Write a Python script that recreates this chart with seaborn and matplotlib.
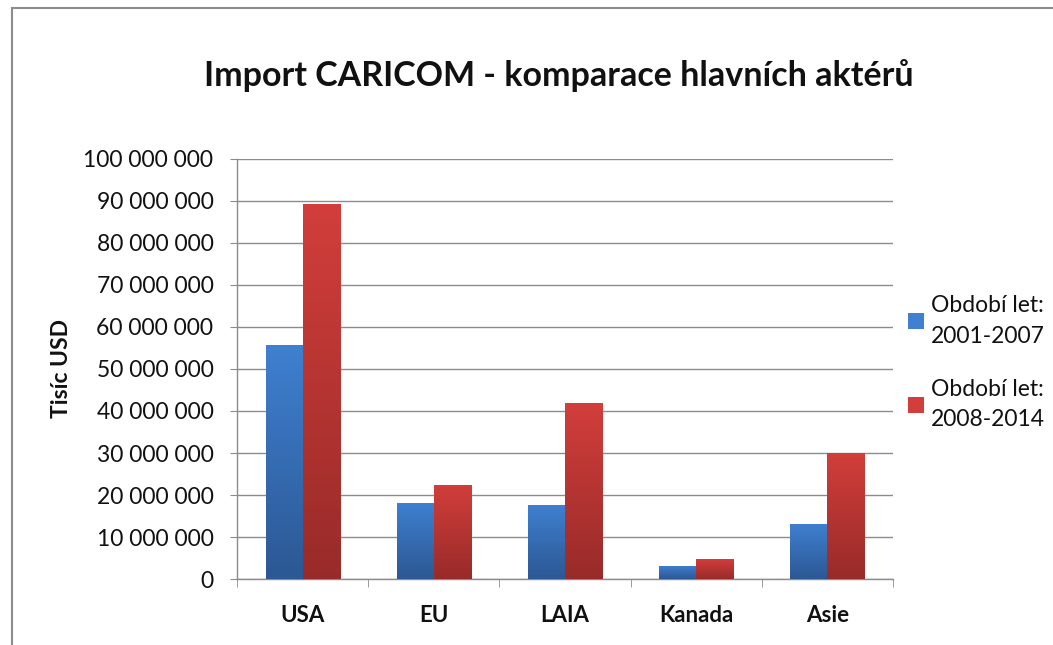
import numpy as np
import pandas as pd
import matplotlib
matplotlib.use("Agg")
import matplotlib.pyplot as plt
import seaborn as sns
from matplotlib.ticker import FuncFormatter, FixedLocator
from matplotlib.colors import LinearSegmentedColormap
from matplotlib.patches import Rectangle, Patch

categories = ["USA", "EU", "LAIA", "Kanada", "Asie"]
series_names = ["Období let:\n2001-2007", "Období let:\n2008-2014"]
values_2001_2007 = [55.7e6, 18.2e6, 17.7e6, 3.2e6, 13.2e6]
values_2008_2014 = [89.4e6, 22.5e6, 41.8e6, 4.7e6, 30.0e6]

df = pd.DataFrame({
    "cat": categories * 2,
    "series": [series_names[0]] * 5 + [series_names[1]] * 5,
    "val": values_2001_2007 + values_2008_2014,
})

sns.set_style("white")
plt.rcParams['font.family'] = ['Lato', 'DejaVu Sans']

fig = plt.figure(figsize=(10.53, 6.45), dpi=100)
ax = fig.add_axes([237/1053, 1 - 579/645, (893-237)/1053, (579-159)/645])

top_cols = ["#3f80d0", "#d23e3b"]
bot_cols = ["#2c5894", "#982b29"]
sns.barplot(data=df, x="cat", y="val", hue="series", order=categories,
            hue_order=series_names, palette=top_cols, width=0.565,
            saturation=1, ax=ax, legend=False, zorder=3)

# gradient fill on each bar
for i, cont in enumerate(ax.containers):
    cmap = LinearSegmentedColormap.from_list("g", [bot_cols[i], top_cols[i]])
    for bar in cont:
        x0, y0 = bar.get_x(), bar.get_y()
        w, h = bar.get_width(), bar.get_height()
        grad = np.linspace(0, 1, 256).reshape(-1, 1)
        im = ax.imshow(grad, extent=[x0, x0 + w, y0, y0 + h], origin="lower",
                       cmap=cmap, aspect="auto", zorder=3.5)
        im.set_clip_path(bar)
        bar.set_edgecolor("none")

ax.set_xlim(-0.5, 4.5)
ax.set_ylim(0, 100e6)
ax.set_yticks(np.arange(0, 100e6 + 1, 10e6))
ax.yaxis.set_major_formatter(FuncFormatter(lambda v, p: f"{int(v):,}".replace(",", " ")))
ax.grid(axis="y", color="#8c8c8c", linewidth=1.0, zorder=0)
ax.set_axisbelow(True)

for s in ["top", "right"]:
    ax.spines[s].set_visible(False)
for s in ["left", "bottom"]:
    ax.spines[s].set_color("#8c8c8c")
    ax.spines[s].set_linewidth(1.0)

ax.tick_params(axis="y", which="major", length=5, color="#8c8c8c", labelsize=16.5,
               pad=12, left=True, labelcolor="#111111")
ax.tick_params(axis="x", which="major", length=0, labelsize=16, pad=19, labelcolor="#111111")
ax.xaxis.set_minor_locator(FixedLocator([-0.5, 0.5, 1.5, 2.5, 3.5, 4.5]))
ax.tick_params(axis="x", which="minor", length=6, color="#8c8c8c", bottom=True)
for lab in ax.get_xticklabels():
    lab.set_fontweight("bold")
ax.set_xlabel("")
ax.set_ylabel("Tisíc USD", fontsize=16.5, fontweight="bold", labelpad=8, color="#111111")

fig.text(0.531, 1 - 76/645, "Import CARICOM - komparace hlavních aktérů",
         ha="center", va="center", fontsize=24.5, fontweight="bold", color="#111111")

handles = [Patch(facecolor=top_cols[0], edgecolor="none"),
           Patch(facecolor=top_cols[1], edgecolor="none")]
leg = fig.legend(handles, series_names, loc="upper left",
                 bbox_to_anchor=(899/1053, 1 - 286/645), frameon=False, fontsize=16.5,
                 handlelength=0.7, handleheight=0.7, handletextpad=0.3,
                 labelspacing=1.4, borderaxespad=0)
for t in leg.get_texts():
    t.set_linespacing(1.55)
    t.set_color("#111111")

# outer chart frame
fig.patches.append(Rectangle((12/1053, -0.1), 1.2, 1 - 8/645 + 0.1,
                             transform=fig.transFigure, fill=False,
                             edgecolor="#8c8c8c", linewidth=1.5))

fig.savefig("out.png", dpi=100, facecolor="white")
